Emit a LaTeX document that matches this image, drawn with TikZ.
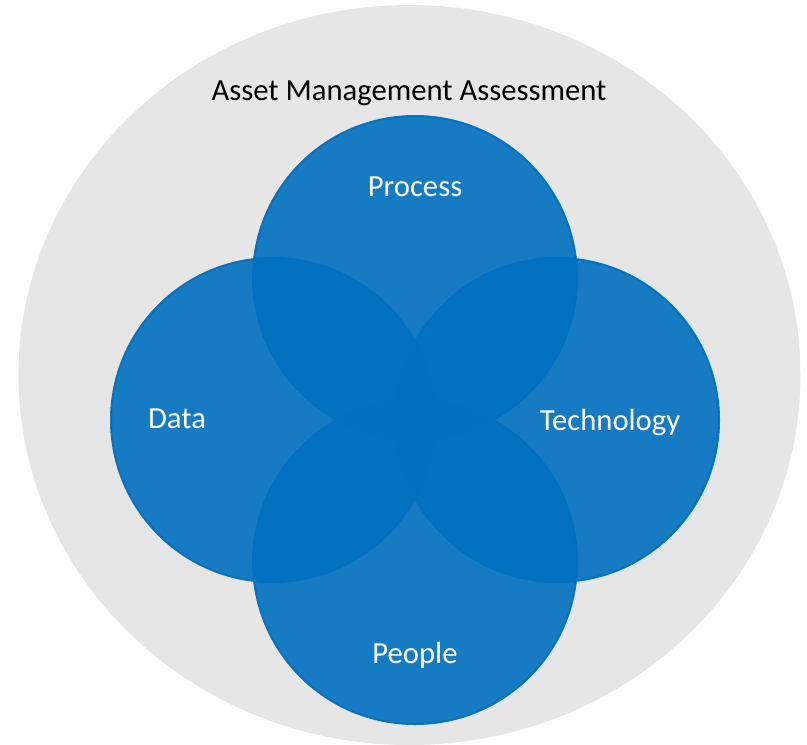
\documentclass[tikz,border=0pt]{standalone}
\usepackage{fontspec}
\setmainfont{Carlito}
\definecolor{ringgray}{HTML}{E6E6E6}
\definecolor{areablue}{HTML}{0070C0}

\begin{document}
\begin{tikzpicture}[x=0.75pt,y=-0.75pt,
  area/.style={circle,minimum size=243pt,inner sep=0pt,outer sep=0pt,fill=areablue,fill opacity=0.9,draw=areablue,draw opacity=0.95,line width=1.5pt},
  label/.style={anchor=base,text=white,font=\fontsize{23}{28}\selectfont},
  heading/.style={anchor=base,text=black,font=\fontsize{23}{28}\selectfont}]
\useasboundingbox (0,0) rectangle (807,744);
\fill [ringgray] (409.5,375) ellipse [x radius=391, y radius=370];

\node [area] (process) at (415,278) {};
\node [area] (data) at (273,420) {};
\node [area] (technology) at (557,420) {};
\node [area] (people) at (415,562) {};

\node [heading] (title) at (409,100) {Asset Management Assessment};
\node [label] (processtext) at (415,196) {Process};
\node [label] (datatext) at (177,428) {Data};
\node [label] (technologytext) at (610,430) {Technology};
\node [label] (peopletext) at (415,663) {People};
\end{tikzpicture}
\end{document}
